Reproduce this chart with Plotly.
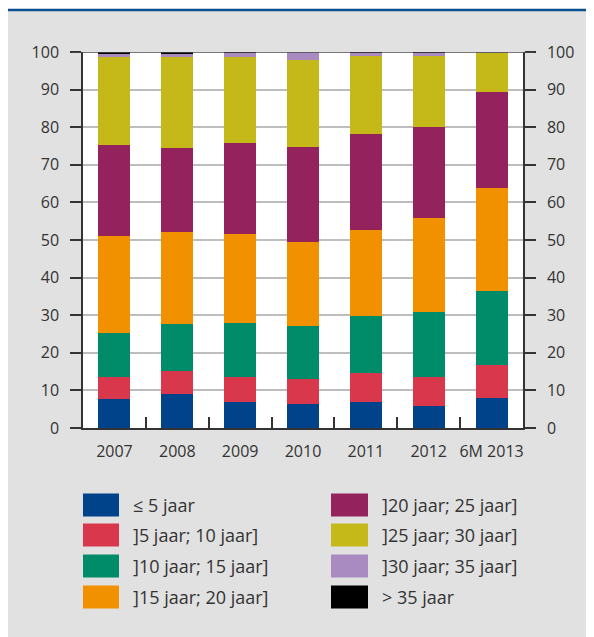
import plotly.graph_objects as go

categories = ["2007", "2008", "2009", "2010", "2011", "2012", "6M 2013"]

series_names = [
    "≤ 5 jaar",
    "]5 jaar; 10 jaar]",
    "]10 jaar; 15 jaar]",
    "]15 jaar; 20 jaar]",
    "]20 jaar; 25 jaar]",
    "]25 jaar; 30 jaar]",
    "]30 jaar; 35 jaar]",
    "> 35 jaar",
]

le_5 = [7.6, 9.1, 7.0, 6.5, 7.0, 5.9, 8.1]
y5_10 = [5.9, 6.1, 6.5, 6.6, 7.5, 7.7, 8.7]
y10_15 = [11.8, 12.5, 14.5, 14.1, 15.4, 17.3, 19.7]
y15_20 = [25.8, 24.5, 23.7, 22.3, 22.8, 25.0, 27.4]
y20_25 = [24.2, 22.3, 24.2, 25.3, 25.6, 24.2, 25.4]
y25_30 = [23.3, 24.1, 22.8, 23.1, 20.7, 18.9, 10.6]
y30_35 = [1.0, 0.9, 1.2, 2.1, 0.8, 0.9, 0.1]
gt_35 = [0.4, 0.5, 0.1, 0.0, 0.2, 0.1, 0.0]

series_values = [le_5, y5_10, y10_15, y15_20, y20_25, y25_30, y30_35, gt_35]
colors = ["#00438A", "#D9374C", "#008C69", "#F29100",
          "#93225D", "#C4B918", "#A98BC1", "#000000"]

y_ticks = [0, 10, 20, 30, 40, 50, 60, 70, 80, 90, 100]

# the page body adds an 8px offset, so the figure is laid out in figure pixels
W, H = 586, 629
L, R, T, B = 75, 71, 44, 209
PW, PH = W - L - R, H - T - B

def px(x):
    return (x - L) / PW

def py(y):
    return (H - B - y) / PH

fig = go.Figure()
for name, vals, col in zip(series_names, series_values, colors):
    fig.add_trace(go.Bar(x=categories, y=vals, name=name, marker_color=col,
                         marker_line_width=0, showlegend=False))

# helper trace so the right-hand axis is drawn
fig.add_trace(go.Scatter(x=[], y=[], yaxis="y2", showlegend=False, hoverinfo="skip"))

font_family = "Open Sans, Noto Sans, sans-serif"
txt = "#333333"
tick_size = 16
leg_size = 18

shapes = []
annotations = []
# background framing
shapes.append(dict(type="rect", xref="paper", yref="paper", x0=px(-5), x1=px(W + 5),
                   y0=py(1), y1=py(-5), fillcolor="white", line_width=0, layer="below"))
shapes.append(dict(type="line", xref="paper", yref="paper", x0=px(-1), x1=px(W + 5),
                   y0=py(2), y1=py(2), line=dict(color="#0A4F8F", width=2.5)))
# top line at 100
shapes.append(dict(type="line", xref="paper", yref="y", x0=px(64), x1=px(526),
                   y0=100, y1=100, line=dict(color="#4a4a4a", width=1.5)))

# legend (two columns of four)
row_y = [497, 527, 558, 589]
col_x = [(75, 111, 123), (323, 360, 372)]
for i, (name, col) in enumerate(zip(series_names, colors)):
    c = col_x[i // 4]
    ry = row_y[i % 4]
    shapes.append(dict(type="rect", xref="paper", yref="paper",
                       x0=px(c[0]), x1=px(c[1]), y0=py(ry + 11.5), y1=py(ry - 11.5),
                       fillcolor=col, line_width=0))
    annotations.append(dict(xref="paper", yref="paper", x=px(c[2]), y=py(ry),
                            text=name, showarrow=False, xanchor="left", yanchor="middle",
                            font=dict(family=font_family, size=leg_size, color=txt)))

fig.update_layout(
    width=W, height=H,
    margin=dict(l=L, r=R, t=T, b=B, pad=0, autoexpand=False),
    barmode="stack", bargap=0.49,
    paper_bgcolor="#E1E1E1", plot_bgcolor="white",
    font=dict(family=font_family, size=tick_size, color=txt),
    showlegend=False,
    shapes=shapes, annotations=annotations,
    xaxis=dict(type="category", tickson="boundaries", ticks="inside", ticklen=11,
               tickwidth=1.5, tickcolor="#333333", showline=True, linecolor="#333333",
               linewidth=1.5, showgrid=False, tickangle=0, automargin=False,
               tickfont=dict(size=tick_size, color=txt), ticklabelstandoff=8),
    yaxis=dict(range=[0, 100], tickvals=y_ticks, ticks="outside", ticklen=11,
               tickwidth=1.5, tickcolor="#333333", showline=True, linecolor="#333333",
               linewidth=1.5, showgrid=True, gridcolor="#BDBDBD", gridwidth=1.5,
               zeroline=False, automargin=False,
               tickfont=dict(size=tick_size, color=txt), ticklabelstandoff=8),
    yaxis2=dict(range=[0, 100], tickvals=y_ticks, overlaying="y", side="right",
                ticks="outside", ticklen=11, tickwidth=1.5, tickcolor="#333333",
                showline=True, linecolor="#333333", linewidth=1.5, showgrid=False,
                zeroline=False, automargin=False,
                tickfont=dict(size=tick_size, color=txt), ticklabelstandoff=8),
)

fig.write_html("out.html")
